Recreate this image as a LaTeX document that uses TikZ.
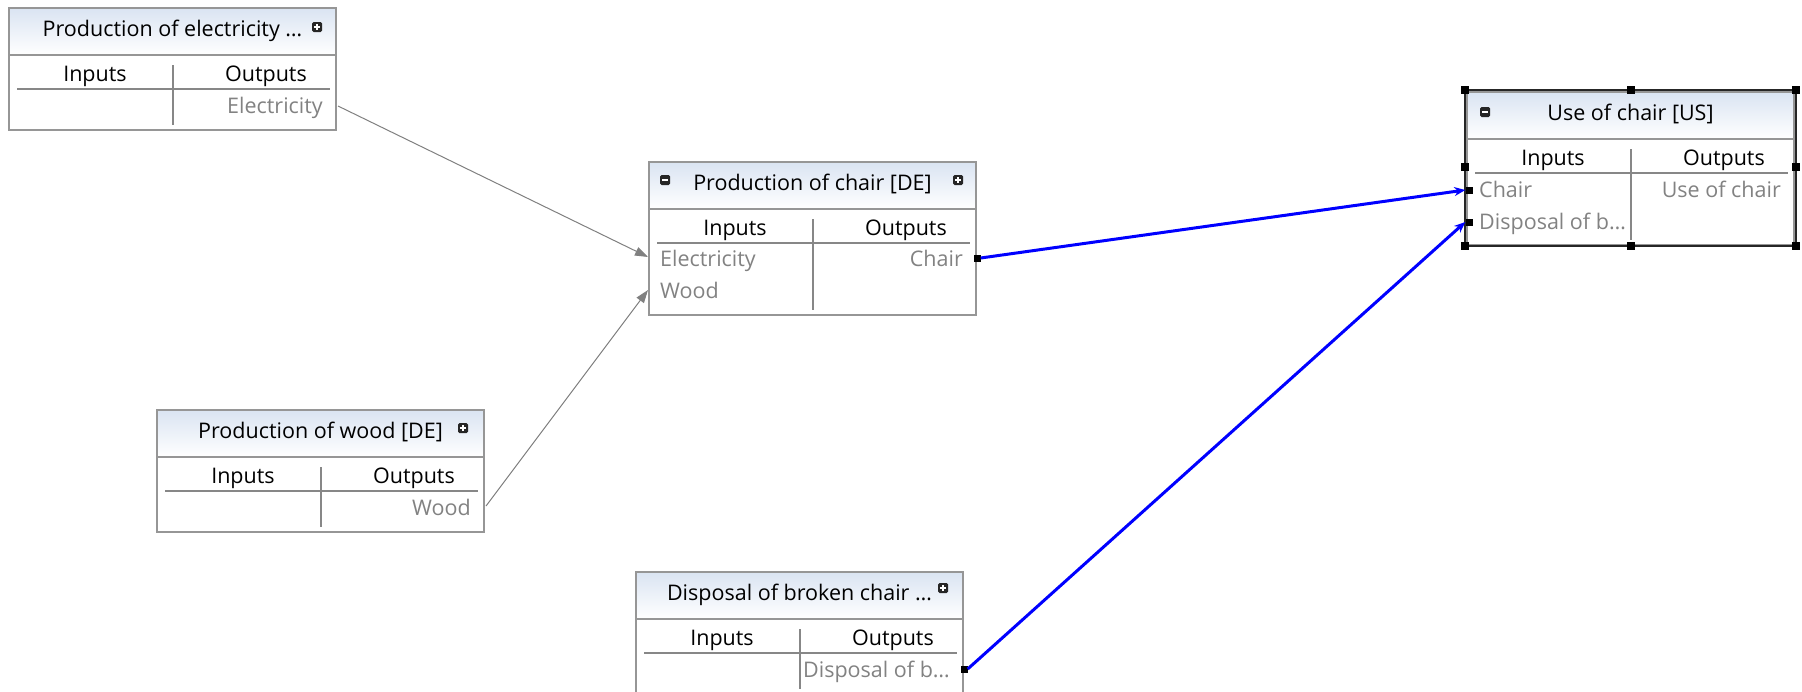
\documentclass[tikz,border=0pt]{standalone}
\usepackage{fontspec}
\setmainfont{Open Sans}
\usetikzlibrary{arrows.meta}
\definecolor{framegray}{RGB}{150,150,150}
\definecolor{sepgray}{RGB}{135,135,135}
\definecolor{rowgray}{RGB}{130,130,130}
\definecolor{hdtop}{RGB}{218,228,242}
\definecolor{linkgray}{RGB}{128,128,128}
\definecolor{linkblue}{RGB}{0,0,255}
\tikzset{
  frame/.style={draw=framegray, line width=1.2pt},
  sepline/.style={draw=sepgray, line width=1.2pt},
  titletext/.style={inner sep=0pt, anchor=base, font=\fontsize{21.5}{24}\selectfont, text=black},
  colhead/.style={inner sep=0pt, anchor=base, font=\fontsize{21.5}{24}\selectfont, text=black},
  rowtext/.style={inner sep=0pt, font=\fontsize{21.5}{24}\selectfont, text=rowgray},
  graylink/.style={draw=linkgray, line width=1pt, -{Triangle[length=13pt,width=9pt]}},
  bluelink/.style={draw=linkblue, line width=3pt, -{Stealth[length=11pt,width=9pt]}},
  port/.style={fill=black, draw=none, minimum size=7pt, inner sep=0pt},
  handle/.style={fill=black, draw=none, minimum size=8pt, inner sep=0pt},
}
\newcommand\iconplus[2]{%
  \fill[black!85, rounded corners=1.5pt] (#1-5,#2-5) rectangle (#1+5,#2+5);
  \draw[white, line width=1.6pt] (#1-3,#2) -- (#1+3,#2) (#1,#2-3) -- (#1,#2+3);}
\newcommand\iconminus[2]{%
  \fill[black!85, rounded corners=1.5pt] (#1-5,#2-5) rectangle (#1+5,#2+5);
  \draw[white, line width=1.6pt] (#1-3,#2) -- (#1+3,#2);}
% name, left, top, height, title
\newcommand\procbox[5]{%
\begin{scope}[shift={(#2,#3)}]
  \fill[white] (0,0) rectangle (327,#4);
  \shade[top color=hdtop, bottom color=white] (0,0) rectangle (327,47);
  \draw[frame] (0,0) rectangle (327,#4);
  \draw[frame] (0,47) -- (327,47);
  \node[titletext] (#1-title) at (163.5,28) {#5};
  \node[colhead] (#1-in) at (86,73) {Inputs};
  \node[colhead, anchor=base east] (#1-out) at (298,73) {Outputs};
  \draw[sepline] (8,81) -- (321,81);
  \draw[sepline] (164,57) -- (164,{#4-5});
\end{scope}}
\begin{document}
\begin{tikzpicture}[x=1pt, y=-1pt]
\useasboundingbox (0,0) rectangle (1802,691);
\fill[white] (0,0) rectangle (1802,691);

% Production of electricity
\procbox{elec}{9}{8}{122}{Production of electricity …}
\iconplus{317}{27}
\node[rowtext, anchor=base east] (elec-o1) at (323,113) {Electricity};

% Production of chair
\procbox{chair}{649}{162}{153}{Production of chair [DE]}
\iconminus{665}{180}
\iconplus{958}{180}
\node[rowtext, anchor=base west] (chair-i1) at (660,266) {Electricity};
\node[rowtext, anchor=base west] (chair-i2) at (660,298) {Wood};
\node[rowtext, anchor=base east] (chair-o1) at (963,266) {Chair};

% Production of wood
\procbox{wood}{157}{410}{122}{Production of wood [DE]}
\iconplus{463}{428}
\node[rowtext, anchor=base east] (wood-o1) at (471,515) {Wood};

% Disposal of broken chair
\procbox{disp}{636}{572}{122}{Disposal of broken chair …}
\iconplus{943}{588}
\node[rowtext, anchor=base east] (disp-o1) at (950,677) {Disposal of b…};

% Use of chair (selected)
\procbox{use}{1467}{92}{153}{Use of chair [US]}
\iconminus{1485}{112}
\node[rowtext, anchor=base west] (use-i1) at (1479,197) {Chair};
\node[rowtext, anchor=base west] (use-i2) at (1479,229) {Disposal of b…};
\node[rowtext, anchor=base east] (use-o1) at (1781,197) {Use of chair};
\draw[black!85, line width=2pt] (1465,90) rectangle (1796,246);
\foreach \hx/\hy [count=\i] in {1465/90,1630.5/90,1796/90,1465/167,1796/167,1465/246,1630.5/246,1796/246}
  \node[handle] (h\i) at (\hx,\hy) {};

% ports
\node[port] (p-chair-out) at (977,258) {};
\node[port] (p-disp-out) at (964,669) {};
\node[port] (p-use-in1) at (1469,190) {};
\node[port] (p-use-in2) at (1469,222) {};
\coordinate (p-elec-out) at (338,106);
\coordinate (p-wood-out) at (486,506);
\coordinate (p-chair-in1) at (648,257);
\coordinate (p-chair-in2) at (648,290);

% connectors
\draw[graylink] (p-elec-out) -- (p-chair-in1);
\draw[graylink] (p-wood-out) -- (p-chair-in2);
\draw[bluelink] (p-chair-out.east) -- (p-use-in1.west);
\draw[bluelink] (p-disp-out.east) -- (p-use-in2.west);
\end{tikzpicture}
\end{document}
